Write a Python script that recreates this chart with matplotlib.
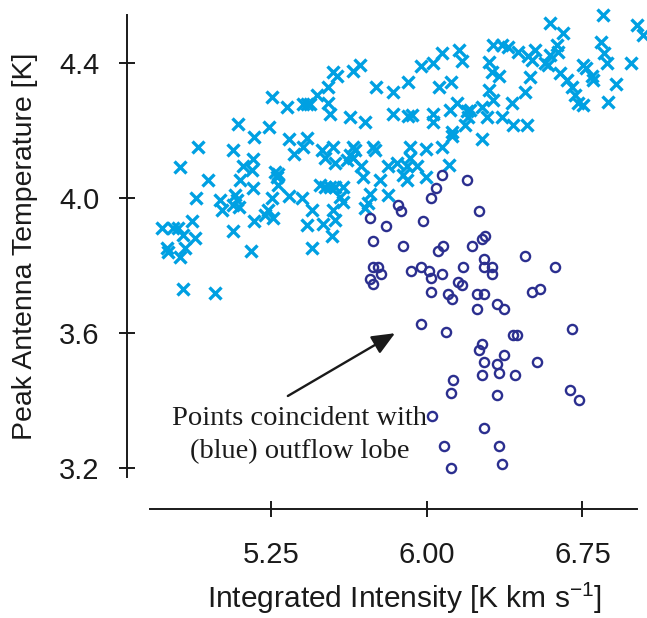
import matplotlib
matplotlib.use("Agg")
import matplotlib.pyplot as plt

# ---- data: outflow-lobe points (circles) ----
lobe_x = [6.071, 6.192, 6.043, 6.019, 5.861, 5.873, 6.251, 5.726, 5.801, 5.982,
          5.738, 5.886, 6.055, 6.079, 6.216, 6.264, 6.280, 6.473, 6.618, 5.738,
          5.762, 5.777, 5.725, 5.738, 5.921, 5.970, 6.008, 6.021, 6.071, 6.175,
          6.275, 6.275, 6.314, 6.314, 6.151, 6.167, 6.019, 6.103, 6.119, 6.240,
          6.275, 6.240, 6.336, 6.372, 6.507, 6.545, 5.971, 6.092, 6.702, 6.414,
          6.432, 6.264, 6.251, 6.372, 6.275, 6.336, 6.349, 6.264, 6.425, 6.531,
          6.128, 6.118, 6.336, 6.690, 6.734, 6.022, 6.275, 6.081, 6.349, 6.117,
          6.362]
lobe_y = [4.069, 4.054, 4.031, 4.002, 3.980, 3.962, 3.963, 3.941, 3.919, 3.933,
          3.874, 3.859, 3.845, 3.859, 3.859, 3.879, 3.888, 3.828, 3.797, 3.797,
          3.797, 3.776, 3.761, 3.746, 3.785, 3.797, 3.785, 3.763, 3.776, 3.797,
          3.821, 3.797, 3.797, 3.776, 3.753, 3.743, 3.723, 3.716, 3.701, 3.716,
          3.716, 3.671, 3.686, 3.671, 3.723, 3.731, 3.627, 3.603, 3.611, 3.596,
          3.596, 3.568, 3.551, 3.536, 3.514, 3.508, 3.483, 3.476, 3.476, 3.514,
          3.462, 3.424, 3.416, 3.432, 3.401, 3.356, 3.318, 3.266, 3.266, 3.200,
          3.213]

# ---- data: all other points (crosses) ----
other_x = [5.251, 5.323, 5.089, 5.238, 5.165, 5.335, 4.896, 5.065, 5.358, 4.809,
           5.162, 5.111, 5.154, 4.945, 5.098, 5.266, 5.282, 5.275, 5.162, 5.282,
           4.884, 5.004, 5.073, 5.085, 5.065, 5.009, 5.094, 5.251, 5.335, 5.234,
           5.218, 5.258, 5.165, 4.869, 4.723, 4.776, 4.800, 4.824, 4.880, 5.065,
           4.747, 4.752, 4.832, 4.808, 5.151, 4.821, 4.980,
           6.071, 6.030, 5.971, 5.677, 5.641, 5.548, 5.567, 5.524, 5.468, 5.402,
           5.419, 5.435, 5.524, 5.532, 5.752, 5.837, 5.910, 6.058, 6.118, 5.628,
           5.701, 5.837, 5.910, 5.926, 6.030, 6.030, 6.111, 6.143, 6.119, 6.119,
           5.419, 5.403, 5.492, 5.548, 5.508, 5.556, 5.641, 5.653, 5.628, 5.644,
           5.612, 5.741, 5.749, 5.681, 5.693, 5.773, 5.813, 5.854, 5.918, 5.995,
           6.071, 5.918, 5.902, 5.950, 5.886, 5.902, 5.995, 6.106, 5.813, 5.725,
           5.717, 5.701, 5.484, 5.508, 5.532, 5.556, 5.596, 5.580, 5.596, 5.397,
           5.444, 5.548, 5.556, 5.419, 5.500, 5.446, 5.540,
           6.851, 6.594, 6.655, 7.011, 7.042, 6.840, 6.320, 6.361, 6.392, 6.437,
           6.521, 6.489, 6.505, 6.626, 6.634, 6.594, 6.569, 6.585, 6.154, 6.167,
           6.301, 6.854, 6.867, 6.754, 6.767, 6.795, 6.803, 6.983, 6.912, 6.875,
           6.312, 6.349, 6.497, 6.473, 6.301, 6.320, 6.409, 6.642, 6.674, 6.698,
           6.714, 6.730, 6.754, 6.192, 6.208, 6.199, 6.183, 6.264, 6.288, 6.361,
           6.416, 6.481, 6.264]
other_y = [4.301, 4.271, 4.219, 4.212, 4.181, 4.175, 4.151, 4.143, 4.130, 4.092,
           4.116, 4.094, 4.084, 4.054, 4.054, 4.079, 4.072, 4.063, 4.030, 4.039,
           4.000, 3.995, 4.010, 3.995, 3.980, 3.965, 3.975, 4.000, 4.007, 3.965,
           3.951, 3.941, 3.933, 3.933, 3.913, 3.913, 3.911, 3.891, 3.881, 3.904,
           3.852, 3.842, 3.852, 3.827, 3.844, 3.731, 3.719,
           4.430, 4.400, 4.393, 4.395, 4.378, 4.375, 4.362, 4.331, 4.306, 4.279,
           4.279, 4.279, 4.281, 4.250, 4.331, 4.316, 4.345, 4.331, 4.345, 4.242,
           4.227, 4.250, 4.244, 4.247, 4.250, 4.227, 4.260, 4.281, 4.197, 4.183,
           4.178, 4.153, 4.143, 4.153, 4.119, 4.104, 4.153, 4.143, 4.128, 4.119,
           4.113, 4.153, 4.143, 4.096, 4.064, 4.054, 4.094, 4.104, 4.153, 4.145,
           4.151, 4.119, 4.094, 4.096, 4.069, 4.054, 4.064, 4.099, 4.010, 4.013,
           3.985, 3.970, 4.039, 4.034, 4.034, 4.034, 4.034, 4.005, 3.990, 4.002,
           3.965, 3.965, 3.936, 3.921, 3.924, 3.852, 3.888,
           4.543, 4.519, 4.489, 4.513, 4.484, 4.464, 4.454, 4.454, 4.449, 4.434,
           4.439, 4.422, 4.410, 4.454, 4.434, 4.425, 4.400, 4.395, 4.439, 4.407,
           4.405, 4.430, 4.400, 4.395, 4.385, 4.362, 4.351, 4.400, 4.339, 4.286,
           4.375, 4.362, 4.360, 4.316, 4.321, 4.291, 4.281, 4.372, 4.351, 4.331,
           4.306, 4.281, 4.276, 4.257, 4.262, 4.242, 4.217, 4.271, 4.242, 4.242,
           4.217, 4.217, 4.175]

x_ticks = [5.25, 6.00, 6.75]
x_ticklabels = ["5.25", "6.00", "6.75"]
y_ticks = [3.2, 3.6, 4.0, 4.4]
y_ticklabels = ["3.2", "3.6", "4.0", "4.4"]

note_text = "Points coincident with\n(blue) outflow lobe"
arrow_tip = (5.846, 3.600)
arrow_tail = (5.329, 3.414)
note_pos = (5.387, 3.298)

CYAN = "#00A0E2"
NAVY = "#2B2F8F"
INK = "#1a1a1a"

plt.rcParams["font.family"] = ["Liberation Sans", "DejaVu Sans"]

fig = plt.figure(figsize=(6.47, 6.18), dpi=100)
ax = fig.add_axes([0.2318, 0.2282, 0.7527, 0.7476])

ax.plot(other_x, other_y, linestyle="none", marker="x", ms=9.2, mew=2.4,
        color=CYAN, clip_on=False, zorder=2)
ax.plot(lobe_x, lobe_y, linestyle="none", marker="o", ms=6.6, mew=1.7,
        mfc="none", mec=NAVY, clip_on=False, zorder=3)

ax.set_xlim(4.664, 7.013)
ax.set_ylim(3.174, 4.543)

for s in ("top", "right"):
    ax.spines[s].set_visible(False)
ax.spines["left"].set_position(("outward", 23 * 0.72))
ax.spines["bottom"].set_position(("outward", 32 * 0.72))
for s in ("left", "bottom"):
    ax.spines[s].set_linewidth(1.4)
    ax.spines[s].set_color(INK)

ax.set_xticks(x_ticks)
ax.set_xticklabels(x_ticklabels)
ax.set_yticks(y_ticks)
ax.set_yticklabels(y_ticklabels)
ax.tick_params(axis="both", direction="inout", length=11.5, width=1.4,
               color=INK, labelsize=21, labelcolor=INK)
ax.tick_params(axis="y", pad=14)
ax.tick_params(axis="x", pad=17)

ax.set_xlabel("Integrated Intensity [K km s$^{\\mathregular{-1}}$]", fontsize=21.5, color=INK)
ax.xaxis.set_label_coords(0.5236, -0.262)
ax.xaxis.label.set_verticalalignment("center")
ax.set_ylabel("Peak Antenna Temperature [K]", fontsize=20.5, color=INK)
ax.yaxis.set_label_coords(-0.2567, 0.5)
ax.yaxis.label.set_verticalalignment("center")

ax.annotate("", xy=arrow_tip, xytext=arrow_tail,
            arrowprops=dict(arrowstyle="-|>,head_length=1.4,head_width=0.6",
                            color=INK, lw=1.7, shrinkA=0, shrinkB=0))
ax.text(note_pos[0], note_pos[1], note_text, ha="center", va="center",
        multialignment="center", family=["Liberation Serif", "DejaVu Serif"],
        fontsize=20.5, linespacing=1.45, color=INK)

fig.savefig("out.png", dpi=100)
